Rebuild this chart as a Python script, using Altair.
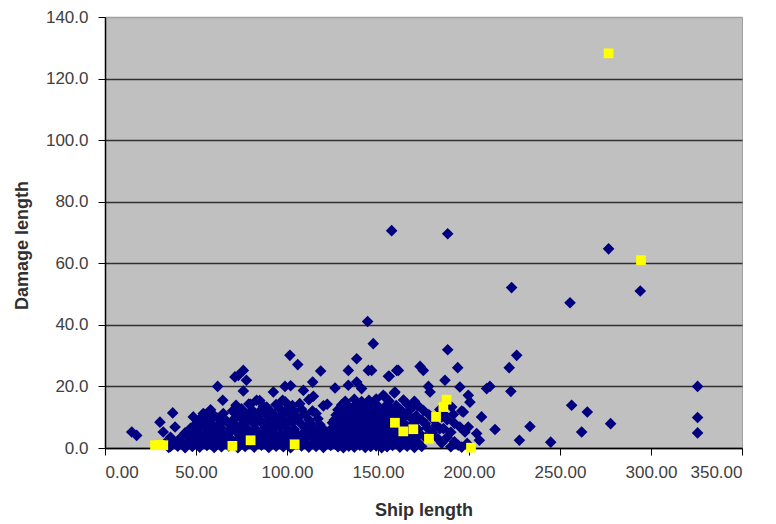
import altair as alt
import pandas as pd

# ---- blue diamonds: dense cluster, read row by row ----
row_x = [
    [35, 40, 44, 48, 52, 56, 60, 64, 68, 73, 77, 82, 86, 90, 94, 98, 102, 108, 112, 116, 120, 124, 128, 131, 134, 137, 140, 143, 146, 149, 152, 155, 158, 162, 166, 170, 174, 190, 196],
    [38, 42, 46, 50, 54, 58, 62, 66, 71, 75, 79, 84, 88, 92, 96, 100, 106, 110, 114, 118, 122, 126, 129, 132, 135, 138, 141, 144, 147, 150, 153, 157, 160, 164, 168, 172, 185, 192, 199],
    [36, 41, 45, 49, 53, 57, 61, 65, 69, 74, 78, 83, 87, 91, 95, 99, 103, 107, 111, 115, 119, 123, 127, 130, 133, 136, 139, 142, 145, 148, 151, 154, 158, 161, 166, 170, 176, 183, 188],
    [44, 48, 52, 56, 60, 64, 68, 72, 76, 80, 85, 89, 93, 97, 101, 105, 109, 113, 117, 121, 126, 129, 132, 135, 138, 141, 144, 147, 150, 153, 156, 160, 164, 168, 173, 180, 190],
    [47, 51, 55, 60, 64, 69, 74, 78, 83, 88, 92, 96, 100, 104, 110, 114, 119, 124, 127, 130, 133, 136, 139, 142, 145, 148, 151, 154, 157, 162, 167, 172, 177, 186, 195],
    [50, 54, 58, 63, 68, 72, 77, 82, 87, 91, 95, 99, 103, 108, 113, 118, 125, 128, 131, 134, 137, 140, 143, 146, 149, 152, 156, 160, 165, 170, 176, 182, 192],
    [52, 57, 62, 66, 71, 76, 80, 85, 90, 94, 98, 102, 106, 112, 117, 126, 129, 132, 135, 138, 141, 144, 147, 150, 154, 158, 163, 168, 174, 180, 188],
    [55, 60, 65, 73, 78, 84, 88, 93, 97, 101, 105, 110, 116, 127, 130, 133, 136, 139, 142, 145, 148, 152, 156, 161, 166, 171, 178, 186],
    [58, 70, 75, 81, 86, 91, 96, 100, 104, 108, 114, 128, 131, 134, 137, 140, 143, 146, 150, 154, 158, 163, 168, 175, 184, 196],
    [72, 79, 87, 94, 103, 107, 120, 130, 134, 138, 142, 146, 150, 155, 160, 166, 172],
    [85, 99, 112, 132, 137, 141, 145, 149, 156, 164, 170],
]
row_y = [
    [0.2, 0.6, 0.1, 0.5, 0.3, 0.8, 0.2, 0.4, 0.7, 0.1, 0.5, 0.3, 0.9, 0.2, 0.6, 0.4, 0.1, 0.7, 0.3, 0.5, 0.2, 0.8, 0.4, 0.1, 0.6, 0.3, 0.9, 0.2, 0.5, 0.7, 0.1, 0.4, 0.8, 0.3, 0.6, 0.2, 0.5, 0.4, 0.3],
    [1.9, 1.5, 2.2, 1.7, 2.0, 1.4, 2.3, 1.8, 1.6, 2.1, 1.5, 1.9, 2.4, 1.7, 2.0, 1.6, 2.2, 1.8, 1.5, 2.1, 1.9, 1.6, 2.3, 1.7, 2.0, 1.5, 2.2, 1.8, 1.6, 2.1, 1.9, 1.4, 2.0, 1.7, 2.3, 1.8, 1.6, 2.0, 1.5],
    [3.5, 3.0, 3.8, 3.2, 3.6, 2.9, 3.4, 3.9, 3.1, 3.5, 3.0, 3.7, 3.3, 2.9, 3.6, 3.2, 3.8, 3.0, 3.4, 3.7, 3.1, 3.5, 2.9, 3.6, 3.3, 3.8, 3.0, 3.4, 3.7, 3.2, 3.5, 2.9, 3.6, 3.3, 3.1, 3.7, 3.4, 3.0, 3.5],
    [4.9, 5.3, 4.6, 5.0, 4.5, 5.2, 4.8, 5.4, 4.7, 5.1, 4.6, 5.3, 4.9, 4.5, 5.2, 4.8, 5.0, 4.6, 5.4, 4.7, 5.1, 4.8, 5.3, 4.6, 5.0, 4.9, 5.2, 4.5, 5.1, 4.8, 5.4, 4.7, 5.0, 5.2, 4.6, 4.9, 5.1],
    [6.4, 6.0, 6.7, 6.2, 6.5, 6.1, 6.8, 6.3, 6.0, 6.6, 6.2, 6.9, 6.4, 6.1, 6.5, 6.3, 6.7, 6.0, 6.4, 6.8, 6.2, 6.5, 6.1, 6.6, 6.3, 6.9, 6.0, 6.4, 6.7, 6.2, 6.5, 6.1, 6.6, 6.3, 6.8],
    [7.9, 7.5, 8.2, 7.7, 8.0, 7.4, 8.3, 7.8, 7.6, 8.1, 7.5, 7.9, 8.4, 7.7, 8.0, 7.6, 8.2, 7.8, 7.5, 8.1, 7.9, 7.6, 8.3, 7.7, 8.0, 7.5, 8.2, 7.8, 7.6, 8.1, 7.9, 7.4, 8.0],
    [9.4, 9.0, 9.7, 9.2, 9.5, 8.9, 9.8, 9.3, 9.1, 9.6, 9.0, 9.4, 9.7, 9.2, 9.5, 9.1, 9.8, 9.3, 9.0, 9.6, 9.4, 9.1, 9.7, 9.2, 9.5, 9.0, 9.3, 9.8, 9.1, 9.5, 9.2],
    [10.9, 10.5, 11.2, 10.7, 11.0, 10.4, 11.3, 10.8, 10.6, 11.1, 10.5, 10.9, 11.2, 10.7, 11.0, 10.6, 11.3, 10.8, 10.5, 11.1, 10.9, 10.6, 11.2, 10.7, 11.0, 10.5, 10.8, 11.1],
    [12.4, 12.0, 12.7, 12.2, 12.5, 11.9, 12.8, 12.3, 12.1, 12.6, 12.0, 12.4, 12.7, 12.2, 12.5, 12.1, 12.8, 12.3, 12.0, 12.6, 12.4, 12.1, 12.7, 12.2, 12.5, 12.0],
    [13.9, 14.3, 13.6, 14.1, 13.8, 14.4, 13.7, 14.0, 13.5, 14.2, 13.9, 14.5, 13.6, 14.1, 13.8, 14.3, 13.7],
    [15.4, 15.0, 15.7, 15.2, 15.8, 15.1, 15.5, 15.9, 15.3, 15.6, 15.2],
]

# ---- blue diamonds: scattered points ----
out_x = [157.5, 188.3, 276.7, 223.4, 255.5, 294.1, 325.6, 325.6, 325.6, 277.8, 265.0, 256.4, 261.9, 244.9,
         233.5, 227.7, 226.2, 222.1, 223.0, 211.5, 209.7, 214.3, 206.9, 188.3, 193.8, 173.1, 174.9, 161.2,
         155.7, 195.0, 186.8, 177.7, 178.6, 199.6, 200.5, 196.9, 191.4, 194.1, 199.6, 204.2, 205.7, 197.8,
         184.0, 185.0, 190.5, 153.8, 159.3, 144.3, 147.4, 138.3, 133.7, 144.7, 146.5, 156.2, 160.3, 101.6,
         105.9, 118.5, 114.1, 109.0, 114.5, 122.1, 126.4, 133.7, 138.3, 141.0, 152.9, 159.0, 98.9, 92.5,
         97.6, 101.6, 71.4, 76.0, 77.7, 73.3, 76.0, 61.9, 64.7, 83.3, 80.0, 37.2, 30.2, 32.0, 14.7, 17.4,
         38.5, 48.5, 54.0, 59.5, 90.7, 88.8, 102.0, 33.0, 36.0]
out_y = [70.6, 69.6, 64.7, 52.1, 47.2, 51.0, 20.0, 9.9, 4.9, 7.9, 11.7, 13.9, 5.2, 1.9,
         7.0, 2.5, 30.1, 26.1, 18.4, 20.0, 19.3, 6.0, 10.1, 31.9, 26.1, 26.5, 25.2, 25.2,
         23.3, 19.8, 22.0, 20.0, 18.2, 17.1, 14.9, 11.7, 10.9, 0.9, 6.8, 4.7, 2.5, 5.2,
         6.3, 10.1, 13.3, 16.6, 18.2, 41.1, 33.9, 29.0, 25.2, 25.2, 25.2, 23.3, 25.2, 30.1,
         27.1, 25.0, 21.4, 18.7, 16.8, 14.2, 19.5, 20.4, 21.4, 19.3, 17.1, 17.9, 20.0, 18.2,
         15.5, 13.3, 23.1, 25.2, 22.0, 23.6, 18.5, 20.0, 15.5, 15.5, 14.2, 11.4, 8.4, 5.2, 5.2, 4.1,
         6.8, 10.1, 11.2, 10.6, 10.1, 13.3, 20.2, 1.5, 0.5]

# ---- yellow squares ----
yel_x = [27.5, 30.0, 32.0, 70.0, 80.0, 104.2, 159.3, 163.9, 169.4, 178.0, 181.9, 185.9, 187.7, 201.1, 276.7, 294.5]
yel_y = [0.9, 1.0, 0.9, 0.7, 2.5, 1.2, 8.2, 5.4, 6.1, 3.0, 10.1, 13.3, 15.7, 0.1, 128.2, 61.0]

x_ticks = [0, 50, 100, 150, 200, 250, 300, 350]
y_ticks = [0, 20, 40, 60, 80, 100, 120, 140]

bx, by = [], []
for xs, ys in zip(row_x, row_y):
    for a, b in zip(xs, ys):
        bx.append(a)
        by.append(b)
bx += out_x
by += out_y[:len(out_x)]
blue = pd.DataFrame({"ship": bx[:len(by)], "damage": by[:len(bx)]})
yellow = pd.DataFrame({"ship": yel_x, "damage": yel_y})

FONT = "Liberation Sans"

xenc = alt.X("ship:Q", scale=alt.Scale(domain=[0, 350], nice=False, zero=True),
             axis=alt.Axis(values=x_ticks, format=".2f", title="Ship length", grid=False,
                           labelFont=FONT, labelFontSize=17, labelColor="#404040",
                           labelPadding=9, tickSize=7, tickColor="#000000",
                           domainColor="#000000", domainWidth=1.5,
                           titleFont=FONT, titleFontSize=18, titleFontWeight="bold",
                           titleColor="#303030", titleBaseline="middle", titleY=62))
yenc = alt.Y("damage:Q", scale=alt.Scale(domain=[0, 140], nice=False),
             axis=alt.Axis(values=y_ticks, format=".1f", title="Damage length", grid=True,
                           gridColor={"condition": {"test": "datum.value == 140", "value": "#a0a0a0"},
                                      "value": "#303030"},
                           gridWidth=1.5,
                           labelFont=FONT, labelFontSize=17, labelColor="#404040",
                           labelPadding=10, tickSize=7, tickColor="#000000",
                           domainColor="#000000", domainWidth=1.5,
                           titleFont=FONT, titleFontSize=18, titleFontWeight="bold",
                           titleColor="#303030", titleBaseline="middle", titleAlign="center",
                           titleX=-83, titleY=228, titleAngle=-90))

blue_layer = alt.Chart(blue).mark_point(shape="diamond", filled=True, size=135,
                                         color="#000080", opacity=1).encode(x=xenc, y=yenc)
yellow_layer = alt.Chart(yellow).mark_point(shape="square", filled=True, size=95,
                                             color="#ffff00", opacity=1).encode(x="ship:Q", y="damage:Q")

chart = (blue_layer + yellow_layer).properties(
    width=637, height=431,
    autosize=alt.AutoSizeParams(type="none"),
    padding={"left": 105, "top": 17, "right": 34, "bottom": 76},
    background="#ffffff",
).configure_view(fill="#c0c0c0", stroke="#a0a0a0", strokeWidth=1)

chart.save("out.html", embed_options={"renderer": "svg", "actions": False})
